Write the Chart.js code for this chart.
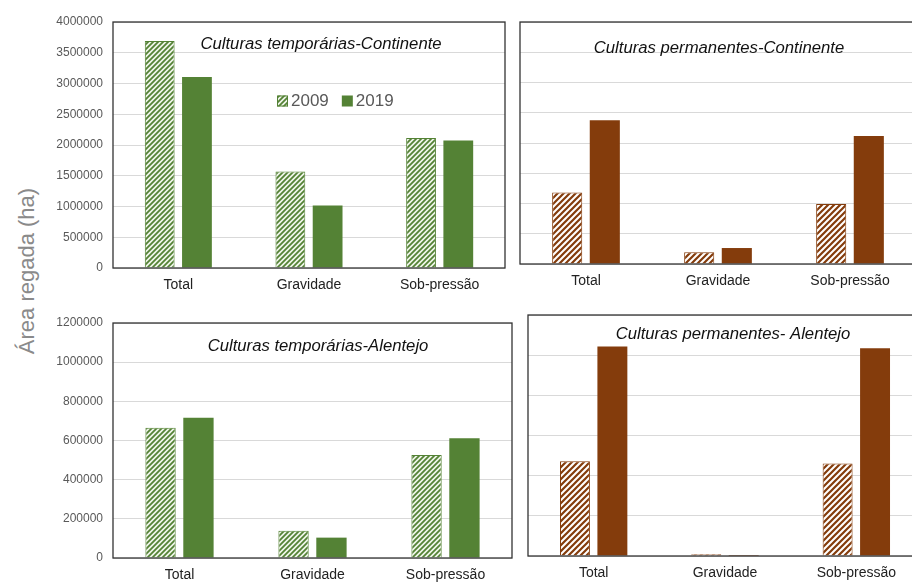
<!DOCTYPE html>
<html>
<head>
<meta charset="utf-8">
<script src="https://cdn.jsdelivr.net/npm/chart.js@4.4.1/dist/chart.umd.min.js"></script>
<style>
  html, body { margin: 0; padding: 0; background: #fff; overflow: hidden; width: 912px; height: 585px; }
  .panel { position: absolute; }
  #yTitle {
    position: absolute; left: -73px; top: 259px; width: 200px; height: 24px;
    line-height: 24px; text-align: center; transform: rotate(-90deg);
    font-family: "Liberation Sans", Arial, sans-serif; font-size: 22px; color: #8a8a8a;
  }
</style>
</head>
<body>
<div id="yTitle">Área regada (ha)</div>
<canvas id="c1" class="panel" width="520" height="300" style="left:0;top:0"></canvas>
<canvas id="c2" class="panel" width="420" height="300" style="left:505px;top:0"></canvas>
<canvas id="c3" class="panel" width="520" height="285" style="left:0;top:300px"></canvas>
<canvas id="c4" class="panel" width="420" height="285" style="left:512px;top:300px"></canvas>
<script>
  // categorias e anos
  var categories = ['Total', 'Gravidade', 'Sob-pressão'];
  var years = ['2009', '2019'];

  // Culturas temporárias - Continente
  var tempCont2009 = [3690000, 1570000, 2115000];
  var tempCont2019 = [3105000, 1015000, 2075000];
  // Culturas permanentes - Continente
  var permCont2009 = [1180000, 193000, 990000];
  var permCont2019 = [2375000, 264000, 2117000];
  // Culturas temporárias - Alentejo
  var tempAlen2009 = [665000, 139000, 526000];
  var tempAlen2019 = [716000, 104000, 611000];
  // Culturas permanentes - Alentejo
  var permAlen2009 = [472000, 9000, 460000];
  var permAlen2019 = [1043000, 5000, 1035000];

  var green = '#548235';
  var brown = '#843c0c';

  // padrão de riscas diagonais
  function stripes(color, bg, size, lw) {
    var c = document.createElement('canvas');
    c.width = size; c.height = size;
    var g = c.getContext('2d');
    g.fillStyle = bg;
    g.fillRect(0, 0, size, size);
    g.strokeStyle = color;
    g.lineWidth = lw;
    g.beginPath();
    g.moveTo(0, size); g.lineTo(size, 0);
    g.moveTo(-1, 1); g.lineTo(1, -1);
    g.moveTo(size - 1, size + 1); g.lineTo(size + 1, size - 1);
    g.stroke();
    return g.createPattern(c, 'repeat');
  }
  var greenHatch = stripes(green, '#f0f5ea', 5, 1.8);
  var brownHatch = stripes(brown, '#ffffff', 6, 2.2);

  // moldura da área do gráfico
  var framePlugin = {
    id: 'frame',
    afterDraw: function(chart) {
      var a = chart.chartArea, ctx = chart.ctx;
      ctx.save();
      ctx.strokeStyle = '#333';
      ctx.lineWidth = 1.3;
      ctx.strokeRect(a.left, a.top, a.right - a.left, a.bottom - a.top);
      ctx.restore();
    }
  };

  // título dentro da área do gráfico
  var titlePlugin = {
    id: 'innerTitle',
    afterDraw: function(chart, args, opts) {
      var ctx = chart.ctx;
      ctx.save();
      ctx.font = 'italic 16.7px "Liberation Sans", Arial, sans-serif';
      ctx.fillStyle = '#111';
      ctx.textAlign = 'center';
      ctx.textBaseline = 'alphabetic';
      ctx.fillText(opts.text, opts.x, opts.y);
      ctx.restore();
    }
  };

  // legenda dentro do primeiro gráfico
  var innerLegend = {
    id: 'innerLegend',
    afterDraw: function(chart, args, opts) {
      if (!opts.show) return;
      var ctx = chart.ctx;
      ctx.save();
      ctx.font = '17px "Liberation Sans", Arial, sans-serif';
      ctx.textBaseline = 'middle';
      var x = opts.x;
      chart.data.datasets.forEach(function(ds) {
        ctx.fillStyle = ds.backgroundColor;
        ctx.fillRect(x, opts.y - 5.5, 11, 11);
        if (ds.borderWidth) {
          ctx.strokeStyle = ds.borderColor;
          ctx.lineWidth = 1;
          ctx.strokeRect(x + 0.5, opts.y - 5, 10, 10);
        }
        ctx.fillStyle = '#595959';
        ctx.fillText(ds.label, x + 14, opts.y);
        x += 14 + ctx.measureText(ds.label).width + 13;
      });
      ctx.restore();
    }
  };

  function makeChart(id, cfg) {
    return new Chart(document.getElementById(id), {
      type: 'bar',
      data: {
        labels: categories,
        datasets: [{
          label: years[0],
          data: cfg.a,
          backgroundColor: cfg.hatch,
          borderColor: cfg.color,
          borderWidth: 1,
          barPercentage: 0.8,
          categoryPercentage: 0.57
        }, {
          label: years[1],
          data: cfg.b,
          backgroundColor: cfg.color,
          borderWidth: 0,
          barPercentage: 0.8,
          categoryPercentage: 0.57
        }]
      },
      options: {
        responsive: false,
        animation: false,
        layout: { padding: { top: cfg.top, right: cfg.right, left: 0, bottom: 0 } },
        plugins: {
          legend: { display: false },
          tooltip: { enabled: false },
          innerTitle: cfg.title,
          innerLegend: cfg.legend || { show: false }
        },
        scales: {
          x: {
            grid: { display: false, drawTicks: false },
            border: { display: false },
            ticks: { color: '#222', padding: 9, font: { family: '"Liberation Sans", Arial', size: 14 } },
            afterFit: function(s) { s.height = cfg.xH; }
          },
          y: {
            min: 0,
            max: cfg.max,
            grid: { color: '#d9d9d9', drawTicks: false },
            border: { display: false },
            ticks: {
              display: cfg.showTicks,
              stepSize: cfg.step,
              color: '#595959',
              padding: 10,
              font: { family: '"Liberation Sans", Arial', size: 12 },
              callback: function(v) { return String(v); }
            },
            afterFit: function(s) { s.width = cfg.yW; }
          }
        }
      },
      plugins: [framePlugin, titlePlugin, innerLegend]
    });
  }

  makeChart('c1', {
    a: tempCont2009, b: tempCont2019, color: green, hatch: greenHatch,
    max: 4000000, step: 500000, showTicks: true,
    top: 22, right: 15, yW: 113, xH: 32,
    title: { text: 'Culturas temporárias-Continente', x: 321, y: 49 },
    legend: { show: true, x: 277, y: 101 }
  });
  makeChart('c2', {
    a: permCont2009, b: permCont2019, color: brown, hatch: brownHatch,
    max: 4000000, step: 500000, showTicks: false,
    top: 22, right: 9, yW: 15, xH: 36,
    title: { text: 'Culturas permanentes-Continente', x: 214, y: 53 }
  });
  makeChart('c3', {
    a: tempAlen2009, b: tempAlen2019, color: green, hatch: greenHatch,
    max: 1200000, step: 200000, showTicks: true,
    top: 23, right: 8, yW: 113, xH: 27,
    title: { text: 'Culturas temporárias-Alentejo', x: 318, y: 51 }
  });
  makeChart('c4', {
    a: permAlen2009, b: permAlen2019, color: brown, hatch: brownHatch,
    max: 1200000, step: 200000, showTicks: false,
    top: 15, right: 10, yW: 16, xH: 29,
    title: { text: 'Culturas permanentes- Alentejo', x: 221, y: 39 }
  });
</script>
</body>
</html>
